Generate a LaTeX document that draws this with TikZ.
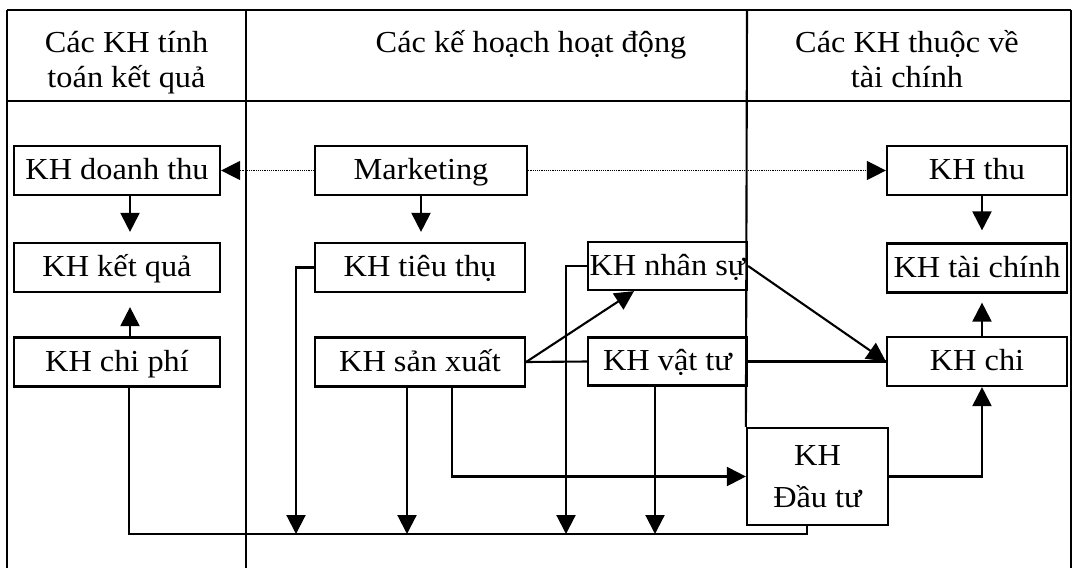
\documentclass[tikz,border=0pt]{standalone}
\usepackage{fontspec}
\setmainfont{Liberation Serif}[FakeStretch=1.06]
\usetikzlibrary{arrows.meta}
\begin{document}
\begin{tikzpicture}[x=1pt,y=-1pt,
  boxbase/.style={draw, line width=2.2pt, inner sep=0pt, anchor=center},
  plan/.style={boxbase, font=\fontsize{30.5}{35}\selectfont, text height=24pt, text depth=6pt},
  conn/.style={line width=2.1pt},
  tip/.style={-{Triangle[length=19pt,width=19pt]}},
  hint/.style={densely dotted, line width=1.2pt},
  head/.style={font=\fontsize{30.5}{35}\selectfont, inner sep=0pt, anchor=base},
  rule/.style={line width=2.1pt}]
\fill[white] (0,0) rectangle (1075,568);
\useasboundingbox (0,0) rectangle (1075,568);

% boxes
\node[plan, minimum width=206pt, minimum height=49pt] (doanhthu) at (117,170.5) {KH doanh thu};
\node[plan, minimum width=206pt, minimum height=49pt] (ketqua) at (117,267.5) {KH kết quả};
\node[plan, minimum width=206pt, minimum height=49pt] (chiphi) at (117,362) {KH chi phí};
\node[plan, minimum width=212pt, minimum height=49pt] (marketing) at (421,170.5) {Marketing};
\node[plan, minimum width=210pt, minimum height=49pt] (tieuthu) at (420,267.5) {KH tiêu thụ};
\node[plan, minimum width=210pt, minimum height=49pt] (sanxuat) at (420,362) {KH sản xuất};
\node[plan, minimum width=159pt, minimum height=48pt] (nhansu) at (667.5,266) {KH nhân sự};
\node[plan, minimum width=159pt, minimum height=48pt] (vattu) at (667.5,361.5) {KH vật tư};
\node[plan, minimum width=180pt, minimum height=49pt] (thu) at (977,170.5) {KH thu};
\node[plan, minimum width=180pt, minimum height=49pt] (taichinh) at (977,268) {KH tài chính};
\node[plan, minimum width=180pt, minimum height=49pt] (chi) at (977,361.5) {KH chi};
\node[boxbase, align=center, font=\fontsize{30.5}{42}\selectfont, minimum width=141pt, minimum height=97pt] (dautu) at (817.5,476.5) {KH\\Đầu tư};

% frame
\draw[rule, line width=2.8pt] (7,10) -- (1071,10);
\draw[rule] (7,101) -- (1071,101);
\draw[rule] (7,10) -- (7,568);
\draw[rule] (246,10) -- (246,568);
\draw[rule] (1071,10) -- (1071,568);
\draw[rule] (747,10) -- (dautu.north west);

% headers
\node[head] (h1) at (126.5,52) {\begin{tabular}[t]{@{}c@{}}Các KH tính\\toán kết quả\end{tabular}};
\node[head] (h2) at (531,52) {Các kế hoạch hoạt động};
\node[head] (h3) at (907,52) {\begin{tabular}[t]{@{}c@{}}Các KH thuộc về\\tài chính\end{tabular}};

% bottom collector line points
\coordinate (b1) at (296,534);
\coordinate (b3) at (566,534);
\coordinate (bend) at (807,534);

% connectors
\draw[hint, tip] (marketing.west) -- (doanhthu.east);
\draw[hint, tip] (marketing.east) -- (thu.west);
\draw[conn, tip, shorten >=10pt] ([xshift=13pt]doanhthu.south) -- ([xshift=13pt]ketqua.north);
\draw[conn, tip, shorten >=14pt] ([xshift=13pt]chiphi.north) -- ([xshift=13pt]ketqua.south);
\draw[conn, tip, shorten >=10pt] (marketing.south) -- (marketing.south |- tieuthu.north);
\draw[conn, tip, shorten >=12pt] ([xshift=5pt]thu.south) -- ([xshift=5pt]taichinh.north);
\draw[conn, tip, shorten >=9pt] ([xshift=5pt]chi.north) -- ([xshift=5pt]taichinh.south);

\draw[conn] ([xshift=12pt]chiphi.south) |- (bend) -- ([xshift=-10.5pt]dautu.south);
\draw[conn, tip] (tieuthu.west) -| (b1);
\draw[conn, tip] ([xshift=-13pt]sanxuat.south) -- ([xshift=-13pt]sanxuat.south |- b1);
\draw[conn, tip] ([xshift=32pt]sanxuat.south) |- (dautu.west);
\draw[conn, tip] (sanxuat.east) -- ([xshift=-33.5pt]nhansu.south);
\draw[conn] (sanxuat.east) -- (vattu.west);
\draw[conn, tip] (nhansu.west) -| (b3);
\draw[conn, tip] ([xshift=-12.5pt]vattu.south) -- ([xshift=-12.5pt]vattu.south |- b1);
\draw[conn, tip] (nhansu.east) -- (chi.west);
\draw[conn] (vattu.east) -- (chi.west);
\draw[conn, tip] (dautu.east) -| ([xshift=5pt]chi.south);
\end{tikzpicture}
\end{document}
